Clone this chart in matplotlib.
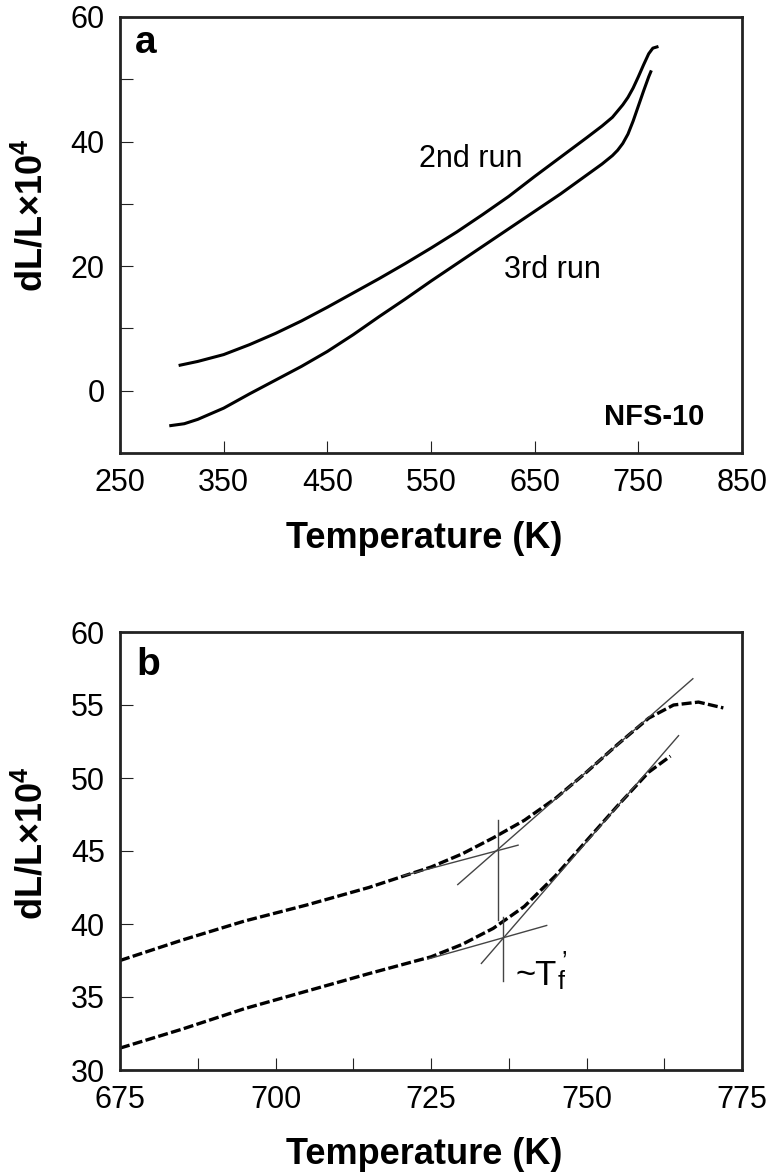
import matplotlib
matplotlib.use("Agg")
import matplotlib.pyplot as plt
from matplotlib.ticker import MultipleLocator, FixedLocator

plt.rcParams['font.family'] = ['Liberation Sans', 'DejaVu Sans']
plt.rcParams['mathtext.default'] = 'regular'

# ---- Panel a data ----
T_run2_a = [308, 325, 350, 375, 400, 425, 450, 475, 500, 525, 550, 575, 600, 625, 650, 675, 700, 715, 725, 735, 740, 745, 750, 755, 760, 764, 768]
dL_run2_a = [4.1, 4.7, 5.8, 7.4, 9.2, 11.2, 13.4, 15.7, 18.0, 20.4, 22.9, 25.5, 28.3, 31.2, 34.4, 37.5, 40.6, 42.5, 43.9, 45.9, 47.1, 48.6, 50.4, 52.3, 54.1, 55.0, 55.2]
T_run3_a = [299, 312, 325, 350, 375, 400, 425, 450, 475, 500, 525, 550, 575, 600, 625, 650, 675, 700, 715, 725, 730, 735, 740, 745, 750, 755, 760, 762]
dL_run3_a = [-5.6, -5.3, -4.6, -2.8, -0.5, 1.7, 3.9, 6.3, 9.0, 11.9, 14.7, 17.6, 20.4, 23.2, 26.0, 28.8, 31.6, 34.6, 36.4, 37.75, 38.6, 39.7, 41.2, 43.3, 45.7, 48.1, 50.4, 51.2]

# ---- Panel b data ----
T_run2_b = [675, 685, 695, 705, 715, 725, 730, 735, 740, 745, 750, 755, 760, 764, 768, 772]
dL_run2_b = [37.5, 38.9, 40.2, 41.3, 42.5, 43.9, 44.8, 45.9, 47.1, 48.6, 50.4, 52.3, 54.1, 55.0, 55.2, 54.8]
T_run3_b = [675, 685, 695, 705, 715, 725, 730, 735, 740, 745, 750, 755, 760, 763.5]
dL_run3_b = [31.5, 32.8, 34.2, 35.4, 36.6, 37.75, 38.6, 39.7, 41.2, 43.3, 45.7, 48.1, 50.4, 51.5]

# construction lines (x pairs, y pairs)
up_steep_T, up_steep_y = [729.3, 767.1], [42.7, 56.8]
up_flat_T, up_flat_y = [720.5, 739.0], [43.3, 45.4]
up_vert_T, up_vert_y = [735.7, 735.7], [47.1, 40.3]
lo_steep_T, lo_steep_y = [733.1, 764.8], [37.3, 52.9]
lo_flat_T, lo_flat_y = [724.5, 743.6], [37.6, 39.9]
lo_vert_T, lo_vert_y = [736.6, 736.6], [40.5, 36.1]

fig = plt.figure(figsize=(7.73, 11.73), dpi=100)
axa = fig.add_axes([120/773, 1-453/1173, 622/773, 436/1173])
axb = fig.add_axes([120/773, 1-1070/1173, 622/773, 438/1173])

tick_fs = 22
lab_fs = 26

for ax in (axa, axb):
    for s in ax.spines.values():
        s.set_linewidth(2.0)
        s.set_color('#222222')
    ax.tick_params(which='both', direction='in', length=9, width=0.8, color='#222222',
                   labelsize=tick_fs, pad=11, top=False, right=False)

# Panel a
axa.plot(T_run2_a, dL_run2_a, color='black', lw=2.2)
axa.plot(T_run3_a, dL_run3_a, color='black', lw=2.2)
axa.set_xlim(250, 850)
axa.set_ylim(-10, 60)
axa.set_xticks([250, 350, 450, 550, 650, 750, 850])
axa.yaxis.set_major_locator(FixedLocator([0, 20, 40, 60]))
axa.yaxis.set_minor_locator(FixedLocator([10, 30, 50]))
axa.set_xlabel('Temperature (K)', fontsize=lab_fs, fontweight='bold')
axa.xaxis.set_label_coords(0.489, (453-522)/436 - 0.005, transform=None) if False else None
axa.xaxis.set_label_coords(0.489, -0.155)
axa.set_ylabel(r'dL/L×10$^{4}$', fontsize=lab_fs, fontweight='bold')
axa.yaxis.set_label_coords((51-120)/622, 0.545)
axa.text(0.024, 0.917, 'a', transform=axa.transAxes, fontsize=28, fontweight='bold', va='baseline', ha='left')
axa.text(0.94, 0.05, 'NFS-10', transform=axa.transAxes, fontsize=21, fontweight='bold', va='bottom', ha='right')
axa.text(588, 35.9, '2nd run', fontsize=22, ha='center', va='baseline')
axa.text(667, 18.1, '3rd run', fontsize=22, ha='center', va='baseline')

# Panel b
dash = (0, (3.0, 1.0))
axb.plot(T_run2_b, dL_run2_b, color='black', lw=2.4, linestyle=dash)
axb.plot(T_run3_b, dL_run3_b, color='black', lw=2.4, linestyle=dash)
for xs, ys in [(up_steep_T, up_steep_y), (up_flat_T, up_flat_y), (up_vert_T, up_vert_y),
               (lo_steep_T, lo_steep_y), (lo_flat_T, lo_flat_y), (lo_vert_T, lo_vert_y)]:
    axb.plot(xs, ys, color='#444444', lw=1.0)
axb.set_xlim(675, 775)
axb.set_ylim(30, 60)
axb.xaxis.set_major_locator(MultipleLocator(25))
axb.xaxis.set_minor_locator(MultipleLocator(12.5))
axb.yaxis.set_major_locator(MultipleLocator(5))
axb.set_xlabel('Temperature (K)', fontsize=lab_fs, fontweight='bold')
axb.xaxis.set_label_coords(0.489, -0.153)
axb.set_ylabel(r'dL/L×10$^{4}$', fontsize=lab_fs, fontweight='bold')
axb.yaxis.set_label_coords((51-120)/622, 0.518)
axb.text(0.027, 0.902, 'b', transform=axb.transAxes, fontsize=28, fontweight='bold', va='baseline', ha='left')
axb.text(738.6, 35.8, '~T', fontsize=25, ha='left', va='baseline')
axb.text(745.3, 35.55, 'f', fontsize=18, ha='left', va='baseline')
axb.text(745.9, 36.95, '’', fontsize=18, ha='left', va='baseline')

fig.savefig('out.png', dpi=100)
